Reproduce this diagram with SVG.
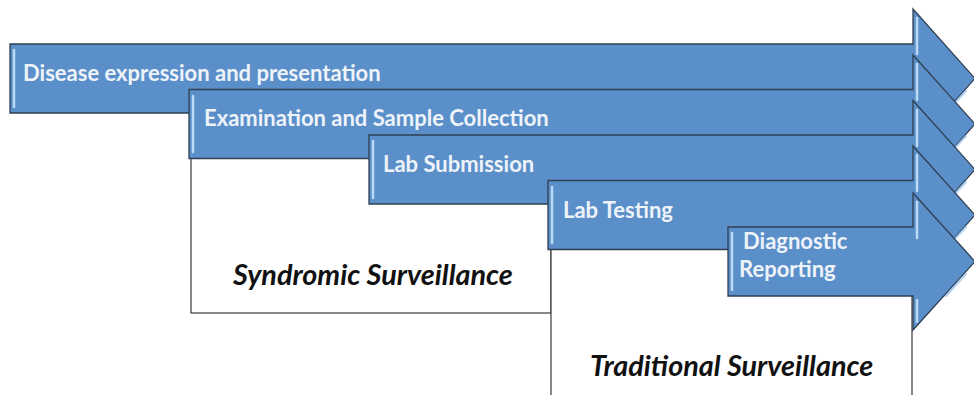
<svg xmlns="http://www.w3.org/2000/svg" width="974" height="395" viewBox="0 0 974 395">
<defs>
<style>
.box{fill:#ffffff;stroke:#3a3a3a;stroke-width:1.2}
.arrow{fill:#5b8fc9;stroke:#2f3f52;stroke-width:1.3;stroke-linejoin:miter}
.hl{stroke:#c4e2fb;stroke-width:2.5;stroke-linecap:round;fill:none;opacity:0.9}
.hl2{stroke:#9cc6ee;stroke-width:2;stroke-linecap:round;fill:none;opacity:0.8}
.lbl{font-family:Lato,"Liberation Sans",sans-serif;font-weight:bold;font-size:22px;fill:#eef3f9}
.big{font-family:Lato,"Liberation Sans",sans-serif;font-weight:bold;font-style:italic;font-size:28.8px;fill:#111111}
</style>
</defs>
<g id="syndromic-box">
<rect class="box" x="191" y="150" width="360" height="163"/>
<text class="big" x="233" y="285">Syndromic Surveillance</text>
</g>
<g id="traditional-box">
<rect class="box" x="551" y="240" width="361" height="170"/>
<text class="big" x="590" y="376">Traditional Surveillance</text>
</g>
<g id="connectors"></g>
<g id="arrow1">
<path class="arrow" d="M10,44 L913,44 L913,9 L975,78.5 L913,148 L913,113 L10,113 Z"/>
<line class="hl" x1="14" y1="50" x2="14" y2="107"/>
<line class="hl" x1="917" y1="18" x2="917" y2="54"/>
<line class="hl2" x1="966" y1="91" x2="952" y2="106"/>
<text class="lbl" x="23" y="81">Disease expression and presentation</text>
</g>
<g id="arrow2">
<path class="arrow" d="M189,89.5 L913,89.5 L913,55 L975,124 L913,193.5 L913,158.5 L189,158.5 Z"/>
<line class="hl" x1="193" y1="96" x2="193" y2="152"/>
<line class="hl" x1="917" y1="64" x2="917" y2="100"/>
<line class="hl2" x1="966" y1="136" x2="952" y2="151"/>
<text class="lbl" x="204" y="126">Examination and Sample Collection</text>
</g>
<g id="arrow3">
<path class="arrow" d="M369,135 L913,135 L913,100.5 L975,169.5 L913,239 L913,204 L369,204 Z"/>
<line class="hl" x1="373" y1="141" x2="373" y2="198"/>
<line class="hl" x1="917" y1="110" x2="917" y2="146"/>
<line class="hl2" x1="966" y1="182" x2="952" y2="197"/>
<text class="lbl" x="383" y="172">Lab Submission</text>
</g>
<g id="arrow4">
<path class="arrow" d="M548,180.5 L913,180.5 L913,146 L975,215 L913,284.5 L913,249.5 L548,249.5 Z"/>
<line class="hl" x1="552" y1="187" x2="552" y2="243"/>
<line class="hl" x1="917" y1="155" x2="917" y2="191"/>
<line class="hl2" x1="966" y1="227" x2="952" y2="242"/>
<text class="lbl" x="563" y="218">Lab Testing</text>
</g>
<g id="arrow5">
<path class="arrow" d="M728,227 L913,227 L913,193 L975,261.5 L913,330 L913,296 L728,296 Z"/>
<line class="hl" x1="732" y1="233" x2="732" y2="290"/>
<line class="hl" x1="917" y1="202" x2="917" y2="238"/>
<line class="hl" x1="917" y1="300" x2="917" y2="322"/>
<line class="hl2" x1="966" y1="274" x2="946" y2="296"/>
<text class="lbl" x="743" y="249">Diagnostic</text>
<text class="lbl" x="739" y="277">Reporting</text>
</g>
</svg>
